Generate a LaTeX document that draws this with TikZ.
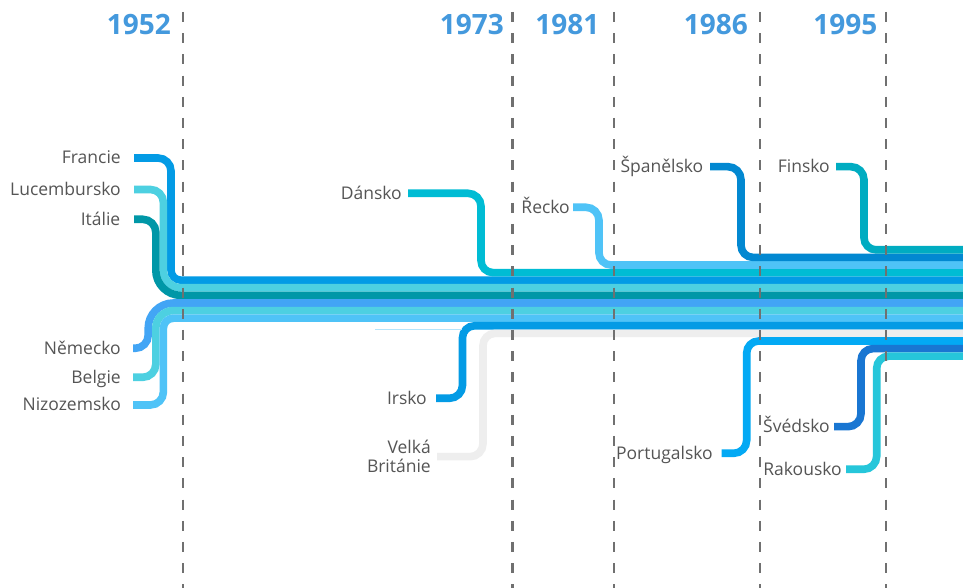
\documentclass[tikz,border=0pt]{standalone}
\usepackage{fontspec}
\setmainfont{Open Sans}
\definecolor{labelgray}{HTML}{555555}
\definecolor{yearblue}{HTML}{4499DD}
\definecolor{dashgray}{HTML}{707070}
\definecolor{cFrancie}{HTML}{039BE5}
\definecolor{cLux}{HTML}{4DD0E1}
\definecolor{cItalie}{HTML}{0097A7}
\definecolor{cNemecko}{HTML}{42A5F5}
\definecolor{cBelgie}{HTML}{4DD0E1}
\definecolor{cNizo}{HTML}{4FC3F7}
\definecolor{cDansko}{HTML}{00BCD4}
\definecolor{cRecko}{HTML}{4FC3F7}
\definecolor{cSpan}{HTML}{0288D1}
\definecolor{cFinsko}{HTML}{00ACC1}
\definecolor{cIrsko}{HTML}{039BE5}
\definecolor{cVB}{HTML}{EEEEEE}
\definecolor{cPort}{HTML}{03A9F4}
\definecolor{cSved}{HTML}{1976D2}
\definecolor{cRak}{HTML}{26C6DA}
\definecolor{thinblue}{HTML}{B3E5FC}
\tikzset{
  lane/.style={line width=7.6pt, line cap=butt},
  lbl/.style={anchor=base east, inner sep=0pt, text=labelgray, align=right, font=\fontsize{17.5}{19.4}\selectfont},
  yr/.style={anchor=base east, inner sep=0pt, text=yearblue, font=\bfseries\fontsize{28}{30}\selectfont},
  yearline/.style={draw=dashgray, line width=2.4pt, dash pattern=on 10pt off 11.2pt},
}
% colour, stub start x, stub Y, vertical x, lane Y, lower corner radius
\newcommand\lanedown[6]{%
  \draw[lane, draw=#1] (#2,#3) -- ({#4-13},#3) arc[start angle=90, end angle=0, radius=13pt]
    -- (#4,{#5+#6}) arc[start angle=180, end angle=270, radius=#6pt] -- (963,#5);}
\newcommand\laneup[6]{%
  \draw[lane, draw=#1] (#2,#3) -- ({#4-13},#3) arc[start angle=270, end angle=360, radius=13pt]
    -- (#4,{#5-#6}) arc[start angle=180, end angle=90, radius=#6pt] -- (963,#5);}
\begin{document}
\begin{tikzpicture}[x=1pt, y=1pt]
\fill[white] (0,0) rectangle (963,588);
\useasboundingbox (0,0) rectangle (963,588);

% lanes
\lanedown{cFrancie}{134}{430}{171}{307.8}{10}
\lanedown{cLux}{134}{398.5}{163.4}{300.2}{17.6}
\lanedown{cItalie}{134}{368.7}{155.8}{292.6}{25.2}
\laneup{cNemecko}{133}{239.7}{148.2}{285}{25.2}
\laneup{cBelgie}{133}{210.7}{155.8}{277.4}{17.6}
\laneup{cNizo}{133}{183}{163.4}{269.8}{10}
\lanedown{cDansko}{408}{394.7}{481}{315.4}{12}
\lanedown{cRecko}{573}{380.7}{599}{323}{12}
\lanedown{cSpan}{710}{421.3}{741}{330.6}{12}
\lanedown{cFinsko}{836}{421.3}{864}{338.2}{12}
\laneup{cIrsko}{436}{189.7}{462.5}{262.2}{12}
\laneup{cVB}{437}{131.3}{483}{254.6}{12}
\laneup{cPort}{721.7}{134.7}{746.7}{247}{12}
\laneup{cSved}{834}{161.3}{861}{239.4}{12}
\laneup{cRak}{846}{118.7}{876.7}{231.8}{12}
\draw[thinblue, line width=0.8pt] (375,259) -- (462,259);

% year lines
\foreach \xx in {183,512.5,614,760,886}{
  \draw[yearline] (\xx,576) -- (\xx,-5);
}

% years
\node[yr] (y1952) at (171,553) {1952};
\node[yr] (y1973) at (504,553) {1973};
\node[yr] (y1981) at (599.5,553) {1981};
\node[yr] (y1986) at (748,553) {1986};
\node[yr] (y1995) at (877.5,553) {1995};

% country labels
\node[lbl] (francie) at (121,424.2) {Francie};
\node[lbl] (lux) at (121,392.7) {Lucembursko};
\node[lbl] (italie) at (120.5,362.9) {Itálie};
\node[lbl] (nemecko) at (121,233.9) {Německo};
\node[lbl] (belgie) at (121,204.9) {Belgie};
\node[lbl] (nizo) at (121,177.2) {Nizozemsko};
\node[lbl] (dansko) at (402,388.9) {Dánsko};
\node[lbl] (recko) at (570,374.9) {Řecko};
\node[lbl] (span) at (703.5,415.5) {Španělsko};
\node[lbl] (finsko) at (830,415.5) {Finsko};
\node[lbl] (irsko) at (427,183.9) {Irsko};
\node[lbl] (vb) at (431,115.3) {Velká\\Británie};
\node[lbl] (port) at (713,128.9) {Portugalsko};
\node[lbl] (sved) at (830,155.5) {Švédsko};
\node[lbl] (rak) at (842,112.9) {Rakousko};
\end{tikzpicture}
\end{document}
